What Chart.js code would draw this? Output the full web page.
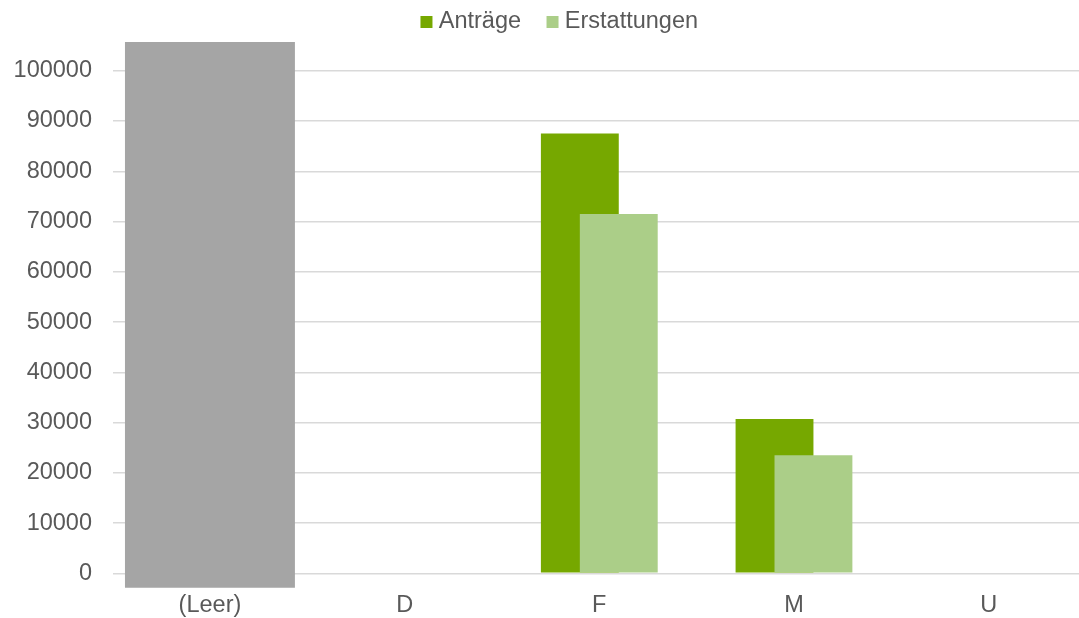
<!DOCTYPE html>
<html>
<head>
<meta charset="utf-8">
<script src="https://cdn.jsdelivr.net/npm/chart.js@4.4.1/dist/chart.umd.min.js"></script>
<style>
  html, body { margin: 0; padding: 0; background: #ffffff; overflow: hidden; }
  canvas { display: block; }
</style>
</head>
<body>
<canvas id="chart" width="1086" height="618"></canvas>
<script>
// Categories along the x axis
const categories = ['(Leer)', 'D', 'F', 'M', 'U'];

// Series values per category (empty where nothing was recorded)
const antraege = [null, null, 87500, 30700, null];
const erstattungen = [null, null, 71500, 23500, null];

// The "(Leer)" column runs off the scale: drawn as a floating band
const leerBand = [[-2900, 105700], null, null, null, null];

// Value-axis ticks
const yTickValues = [0, 10000, 20000, 30000, 40000, 50000, 60000, 70000, 80000, 90000, 100000];

const TEXT = '#595959';
Chart.defaults.font.family = '"Liberation Sans", Arial, Helvetica, sans-serif';
Chart.defaults.font.size = 23.5;
Chart.defaults.color = TEXT;

// Light bars sit in front of the dark ones; the band goes underneath both
const drawOrder = {
  id: 'drawOrder',
  beforeDatasetsDraw(chart) {
    [2, 0, 1].forEach(i => {
      if (chart.isDatasetVisible(i)) chart.getDatasetMeta(i).controller.draw();
    });
    return false;
  }
};

// Extra room between the legend and the plot, legend centred over the plot
const legendPlacement = {
  id: 'legendPlacement',
  beforeLayout(chart) {
    const lg = chart.legend;
    if (lg && !lg._gapAdded) {
      const fit = lg.fit;
      lg.fit = function () { fit.call(this); this.height += 27; };
      lg._gapAdded = true;
    }
  },
  afterLayout(chart) {
    const lg = chart.legend;
    if (lg) { lg.left += 12; lg.right += 12; }
  }
};

new Chart(document.getElementById('chart'), {
  type: 'bar',
  data: {
    labels: categories,
    datasets: [
      {
        label: 'Anträge',
        data: antraege,
        backgroundColor: '#76A800',
        borderWidth: 0,
        categoryPercentage: 0.4,
        barPercentage: 2.0
      },
      {
        label: 'Erstattungen',
        data: erstattungen,
        backgroundColor: '#ABCE88',
        borderWidth: 0,
        categoryPercentage: 0.4,
        barPercentage: 2.0
      },
      {
        label: '(Leer)',
        data: leerBand,
        backgroundColor: '#A5A5A5',
        borderWidth: 0,
        grouped: false,
        clip: false,
        categoryPercentage: 1,
        barPercentage: 0.873
      }
    ]
  },
  options: {
    responsive: false,
    animation: false,
    devicePixelRatio: 1,
    layout: { padding: { top: -20.75, left: 14, right: 0, bottom: -19.7 } },
    plugins: {
      tooltip: { enabled: false },
      legend: {
        display: true,
        position: 'top',
        align: 'center',
        labels: {
          usePointStyle: true,
          pointStyle: 'rect',
          boxWidth: 1,
          boxHeight: 12,
          padding: 31,
          color: TEXT,
          font: { size: 23.5 },
          filter: item => item.datasetIndex !== 2
        }
      }
    },
    scales: {
      x: {
        grid: { display: false, drawTicks: false },
        border: { display: false },
        ticks: { padding: 18.1, color: TEXT, font: { size: 23.5 } }
      },
      y: {
        min: 0,
        max: 100000,
        afterBuildTicks: scale => { scale.ticks = yTickValues.map(v => ({ value: v })); },
        afterFit: scale => { scale.width = 98.6; },
        grid: { color: '#D9D9D9', lineWidth: 1.5, drawTicks: false },
        border: { display: false },
        ticks: {
          padding: 20.6,
          color: TEXT,
          font: { size: 23.5 },
          callback: v => String(v)
        }
      }
    }
  },
  plugins: [drawOrder, legendPlacement]
});
</script>
</body>
</html>
